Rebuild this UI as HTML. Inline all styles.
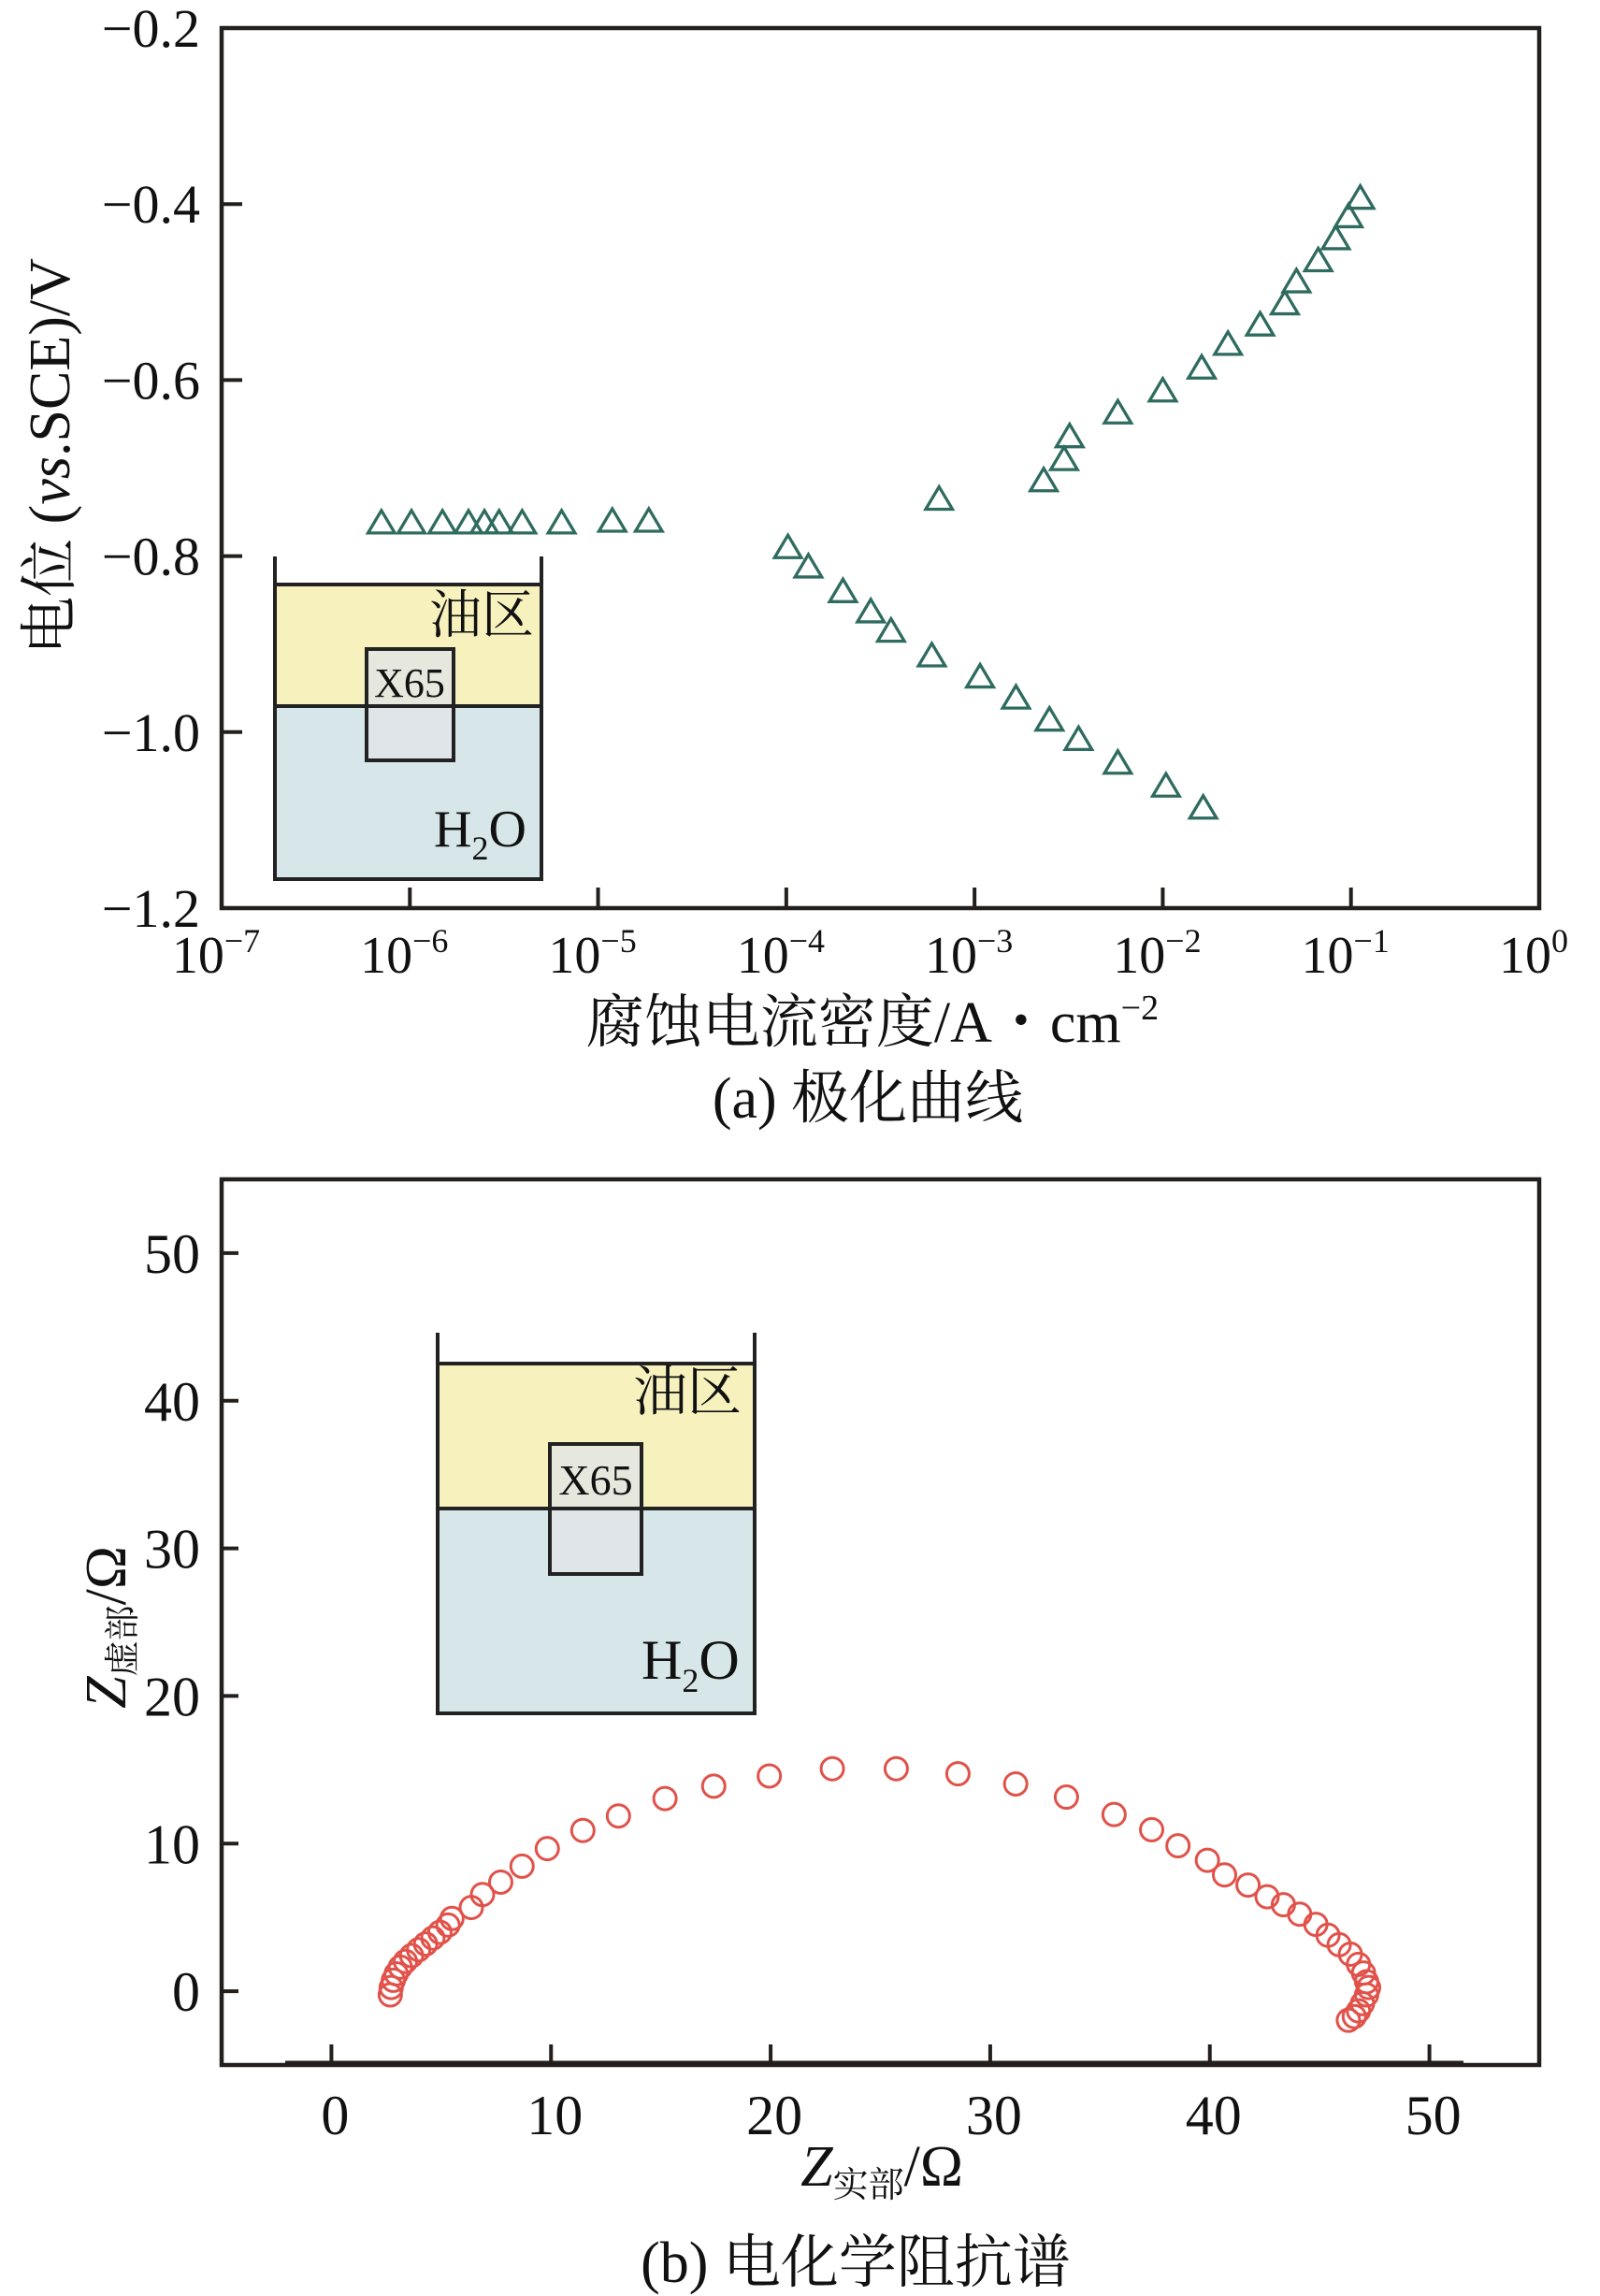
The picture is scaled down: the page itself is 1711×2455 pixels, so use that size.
<!DOCTYPE html>
<html><head><meta charset="utf-8"><style>
html,body{margin:0;padding:0;background:#fff;}
svg{display:block;}
text{font-family:"Liberation Serif","Noto Serif CJK SC",serif;fill:#111;}
</style></head>
<body>
<svg id="fig" width="1711" height="2455" viewBox="0 0 1711 2455" xmlns="http://www.w3.org/2000/svg">
<g id="pa"></g>
<g id="pb"></g>
</svg>
<script>
// ---- Panel (a) data: polarization curve ----
const flatX = [7.06e-7,1.02e-6,1.49e-6,2.05e-6,2.49e-6,2.98e-6,3.95e-6,6.4e-6,1.19e-5,1.86e-5];
const flatY = [-0.762,-0.762,-0.762,-0.762,-0.762,-0.762,-0.762,-0.762,-0.760,-0.760];
const cathX = [1.02e-4,1.31e-4,2.0e-4,2.81e-4,3.6e-4,5.93e-4,1.07e-3,1.66e-3,2.5e-3,3.57e-3,5.77e-3,1.04e-2,1.64e-2];
const cathY = [-0.790,-0.812,-0.840,-0.863,-0.885,-0.913,-0.937,-0.961,-0.986,-1.008,-1.035,-1.061,-1.086];
const anodX = [6.48e-4,2.33e-3,2.99e-3,3.2e-3,5.77e-3,1.0e-2,1.61e-2,2.22e-2,3.29e-2,4.45e-2,5.13e-2,6.7e-2,8.3e-2,9.7e-2,0.112];
const anodY = [-0.735,-0.714,-0.690,-0.664,-0.637,-0.612,-0.586,-0.559,-0.537,-0.513,-0.488,-0.464,-0.439,-0.414,-0.393];
const aXExp = [-7,-6,-5,-4,-3,-2,-1,0];
const aYTicks = [-0.2,-0.4,-0.6,-0.8,-1.0,-1.2];
const aYLabels = ["\u22120.2","\u22120.4","\u22120.6","\u22120.8","\u22121.0","\u22121.2"];
// ---- Panel (b) data: EIS Nyquist ----
const zRe = [2.68,2.72,2.82,2.95,3.14,3.37,3.65,3.97,4.29,4.62,4.94,5.31,5.49,6.37,6.88,7.71,8.68,9.83,11.45,13.07,15.19,17.41,19.94,22.81,25.72,28.53,31.16,33.47,35.64,37.35,38.55,39.89,40.67,41.74,42.61,43.35,44.09,44.83,45.38,45.89,46.4,46.77,47.0,47.14,47.23,47.14,46.95,46.77,46.58,46.31];
const zIm = [-0.25,0.25,0.74,1.18,1.63,2.02,2.41,2.81,3.2,3.6,3.99,4.48,4.93,5.67,6.55,7.39,8.47,9.66,10.89,11.87,13.05,13.89,14.58,15.07,15.07,14.73,14.04,13.15,11.97,10.94,9.85,8.87,7.88,7.19,6.4,5.86,5.22,4.53,3.79,3.15,2.51,1.82,1.23,0.64,0.25,-0.25,-0.84,-1.33,-1.72,-1.97];
const bTicks = [0,10,20,30,40,50];

const NS="http://www.w3.org/2000/svg";
function mk(parent,tag,attrs,txt){const e=document.createElementNS(NS,tag);for(const k in attrs)e.setAttribute(k,attrs[k]);if(txt!==undefined)e.textContent=txt;parent.appendChild(e);return e;}

// ===== Panel a =====
const A=document.getElementById('pa');
const aL=237,aR=1646,aT=30,aB=971;
const ax=v=>aL+(Math.log10(v)+7)/7*(aR-aL);
const ay=v=>aT+(-0.2-v)/1.0*(aB-aT);
const ia=mk(A,'g',{});


mk(ia,'rect',{x:294,y:625,width:285,height:130,fill:'#f6f1bd'});
mk(ia,'rect',{x:294,y:755,width:285,height:185,fill:'#d7e6e8'});
mk(ia,'rect',{x:392,y:694,width:93,height:119,fill:'rgba(225,228,232,0.75)',stroke:'#222','stroke-width':4});
mk(ia,'path',{d:'M294 595 V940 H579 V595 M294 625 H579 M294 755 H579',fill:'none',stroke:'#222','stroke-width':4});
mk(ia,'text',{x:571,y:677,'font-size':56,'text-anchor':'end'},'油区');
mk(ia,'text',{x:438,y:745,'font-size':44,'text-anchor':'middle'},'X65');
const h2a=mk(ia,'text',{x:464,y:905,'font-size':56});
h2a.innerHTML='H<tspan font-size="36" dy="14">2</tspan><tspan dy="-14">O</tspan>';
const fa=mk(A,'rect',{x:aL,y:aT,width:aR-aL,height:aB-aT,fill:'none',stroke:'#231f1c','stroke-width':4.5});


aXExp.forEach(e=>{
  const x=ax(Math.pow(10,e));
  if(e>-7&&e<0){const t=mk(A,'line',{x1:x,x2:x,y1:aB,y2:aB-22,stroke:'#231f1c','stroke-width':4});
  }
  const lb=mk(A,'text',{x:x-6,y:1040,'font-size':56,'text-anchor':'middle'});
  
  
  lb.innerHTML='10<tspan font-size="36" dy="-22">'+(e<0?'\u2212'+(-e):'0')+'</tspan>';
});
aYTicks.forEach((v,i)=>{
  const y=ay(v);
  if(i>0&&i<aYTicks.length-1){const t=mk(A,'line',{x1:aL,x2:aL+22,y1:y,y2:y,stroke:'#231f1c','stroke-width':4});
  }
  const lb=mk(A,'text',{x:214,y:y+20,'font-size':58,'text-anchor':'end'},aYLabels[i]);
  
  
});
function tri(g,x,y){const s=13;return mk(g,'path',{d:`M${x} ${y-s} L${x+s*1.1} ${y+s*0.85} L${x-s*1.1} ${y+s*0.85} Z`,fill:'none',stroke:'#2f6b5f','stroke-width':3.3});}
[[flatX,flatY,'flat-series'],[cathX,cathY,'cathodic-series'],[anodX,anodY,'anodic-series']].forEach(([xs,ys,nm])=>{
  const g=mk(A,'g',{});
  
  
  xs.forEach((v,i)=>{const p=tri(g,ax(v),ay(ys[i]));
    
    });
});
const yta=mk(A,'text',{transform:'translate(74,488) rotate(-90)','font-size':62,'text-anchor':'middle'});


yta.innerHTML='电位 (<tspan font-style="italic">vs</tspan>.SCE)/V';
const xta=mk(A,'text',{x:933,y:1114,'font-size':62,'text-anchor':'middle'});


xta.innerHTML='腐蚀电流密度/A・cm<tspan font-size="38" dy="-24">\u22122</tspan>';
const ca=mk(A,'text',{x:928,y:1195,'font-size':62,'text-anchor':'middle'},'(a) 极化曲线');



// ===== Panel b =====
const B=document.getElementById('pb');
const bL=237,bR=1646,bT=1261,bB=2208;
const bx=v=>bL+(v+5)/60*(bR-bL);
const by=v=>bB-(v+5)/60*(bB-bT);
const ib=mk(B,'g',{});


mk(ib,'rect',{x:468,y:1458,width:339,height:155,fill:'#f6f1bd'});
mk(ib,'rect',{x:468,y:1613,width:339,height:219,fill:'#d7e6e8'});
mk(ib,'rect',{x:588,y:1544,width:98,height:139,fill:'rgba(225,228,232,0.75)',stroke:'#222','stroke-width':4});
mk(ib,'path',{d:'M468 1425 V1832 H807 V1425 M468 1458 H807 M468 1613 H807',fill:'none',stroke:'#222','stroke-width':4});
mk(ib,'text',{x:793,y:1508,'font-size':58,'text-anchor':'end'},'油区');
mk(ib,'text',{x:637,y:1598,'font-size':46,'text-anchor':'middle'},'X65');
const h2b=mk(ib,'text',{x:686,y:1795,'font-size':60});
h2b.innerHTML='H<tspan font-size="36" dy="14">2</tspan><tspan dy="-14">O</tspan>';
const fb=mk(B,'rect',{x:bL,y:bT,width:bR-bL,height:bB-bT,fill:'none',stroke:'#231f1c','stroke-width':4.5});


mk(B,'line',{x1:305,x2:1565,y1:bB-3,y2:bB-3,stroke:'#231f1c','stroke-width':3});
bTicks.forEach(v=>{
  const x=bx(v),y=by(v);
  const t1=mk(B,'line',{x1:x,x2:x,y1:bB,y2:bB-22,stroke:'#231f1c','stroke-width':4});
  
  const t2=mk(B,'line',{x1:bL,x2:bL+18,y1:y,y2:y,stroke:'#231f1c','stroke-width':4});
  
  const lx=mk(B,'text',{x:x+4,y:2282,'font-size':60,'text-anchor':'middle'},String(v));
  
  const ly=mk(B,'text',{x:214,y:y+21,'font-size':60,'text-anchor':'end'},String(v));
  
});
const gc=mk(B,'g',{});


zRe.forEach((v,i)=>{const c=mk(gc,'circle',{cx:bx(v),cy:by(zIm[i]),r:12,fill:'none',stroke:'#e0524a','stroke-width':3});
  
  });
const ytb=mk(B,'text',{transform:'translate(134,1740) rotate(-90)','font-size':62,'text-anchor':'middle'});


ytb.innerHTML='<tspan font-style="italic">Z</tspan><tspan font-size="38" dy="10">虚部</tspan><tspan dy="-10">/Ω</tspan>';
const xtb=mk(B,'text',{x:943,y:2337,'font-size':62,'text-anchor':'middle'});


xtb.innerHTML='<tspan font-style="italic">Z</tspan><tspan font-size="38" dy="12">实部</tspan><tspan dy="-12">/Ω</tspan>';
const cb=mk(B,'text',{x:915,y:2440,'font-size':62,'text-anchor':'middle'},'(b) 电化学阻抗谱');


</script>
</body></html>
